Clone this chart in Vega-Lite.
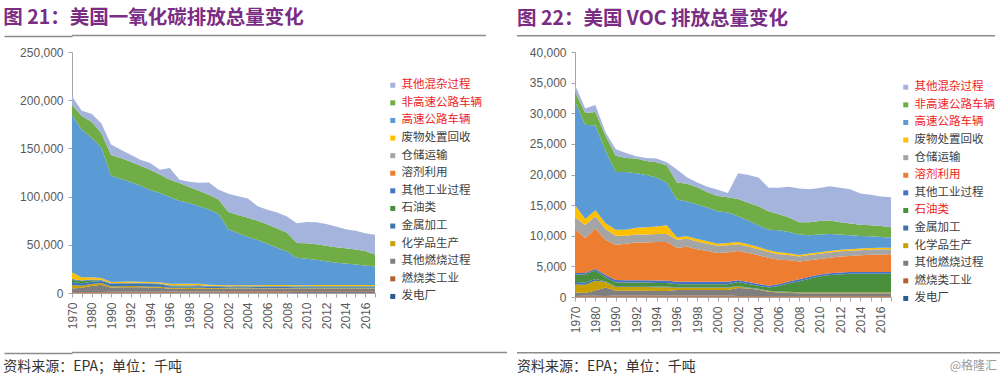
{
  "$schema": "https://vega.github.io/schema/vega-lite/v6.json",
  "padding": {"left": 3, "top": 8, "right": 0, "bottom": 0},
  "background": "white",
  "config": {
    "view": {"stroke": null},
    "font": "Noto Sans CJK SC",
    "title": {"font": "Noto Sans CJK SC"},
    "axis": {"labelFont": "Liberation Sans", "labelFontSize": 12, "labelColor": "#595959", "domainColor": "#A6A6A6", "tickColor": "#A6A6A6", "grid": false, "tickSize": 4},
    "legend": {"padding": 0}
  },
  "datasets": {
    "co": [
      {"year":1970,"发电厂":240,"燃烧类工业":770,"其他燃烧过程":3600,"化学品生产":3400,"金属加工":3600,"石油类":2200,"其他工业过程":620,"溶剂利用":0,"仓储运输":0,"废物处置回收":7100,"高速公路车辆":163500,"非高速公路车辆":10000,"其他混杂过程":9000},
      {"year":1975,"发电厂":280,"燃烧类工业":760,"其他燃烧过程":4300,"化学品生产":2200,"金属加工":2500,"石油类":2200,"其他工业过程":630,"溶剂利用":0,"仓储运输":0,"废物处置回收":3200,"高速公路车辆":153400,"非高速公路车辆":14200,"其他混杂过程":5300},
      {"year":1980,"发电厂":320,"燃烧类工业":750,"其他燃烧过程":6100,"化学品生产":2200,"金属加工":2200,"石油类":1700,"其他工业过程":800,"溶剂利用":0,"仓储运输":0,"废物处置回收":2300,"高速公路车辆":144600,"非高速公路车辆":16700,"其他混杂过程":8300},
      {"year":1985,"发电厂":290,"燃烧类工业":670,"其他燃烧过程":7500,"化学品生产":1800,"金属加工":2200,"石油类":460,"其他工业过程":690,"溶剂利用":2,"仓储运输":50,"废物处置回收":1900,"高速公路车辆":135400,"非高速公路车辆":15000,"其他混杂过程":10000},
      {"year":1990,"发电厂":360,"燃烧类工业":880,"其他燃烧过程":4300,"化学品生产":1200,"金属加工":2600,"石油类":330,"其他工业过程":540,"溶剂利用":5,"仓储运输":80,"废物处置回收":1100,"高速公路车辆":110300,"非高速公路车辆":21500,"其他混杂过程":10800},
      {"year":1991,"发电厂":350,"燃烧类工业":900,"其他燃烧过程":4600,"化学品生产":1100,"金属加工":2600,"石油类":340,"其他工业过程":520,"溶剂利用":5,"仓储运输":80,"废物处置回收":1100,"高速公路车辆":107000,"非高速公路车辆":21400,"其他混杂过程":8600},
      {"year":1992,"发电厂":360,"燃烧类工业":900,"其他燃烧过程":4800,"化学品生产":1100,"金属加工":2600,"石油类":350,"其他工业过程":520,"溶剂利用":5,"仓储运输":100,"废物处置回收":1100,"高速公路车辆":103200,"非高速公路车辆":21000,"其他混杂过程":7400},
      {"year":1993,"发电厂":370,"燃烧类工业":920,"其他燃烧过程":4600,"化学品生产":1100,"金属加工":2600,"石油类":350,"其他工业过程":530,"溶剂利用":5,"仓储运输":100,"废物处置回收":1100,"高速公路车辆":99600,"非高速公路车辆":20700,"其他混杂过程":6300},
      {"year":1994,"发电厂":370,"燃烧类工业":920,"其他燃烧过程":4200,"化学品生产":1100,"金属加工":2700,"石油类":350,"其他工业过程":530,"溶剂利用":5,"仓储运输":100,"废物处置回收":1100,"高速公路车辆":95600,"非高速公路车辆":21000,"其他混杂过程":6800},
      {"year":1995,"发电厂":370,"燃烧类工业":940,"其他燃烧过程":4100,"化学品生产":1100,"金属加工":2600,"石油类":340,"其他工业过程":520,"溶剂利用":5,"仓储运输":100,"废物处置回收":1200,"高速公路车辆":92400,"非高速公路车辆":19300,"其他混杂过程":5000},
      {"year":1996,"发电厂":380,"燃烧类工业":1040,"其他燃烧过程":3000,"化学品生产":1100,"金属加工":1400,"石油类":350,"其他工业过程":600,"溶剂利用":2,"仓储运输":100,"废物处置回收":1700,"高速公路车辆":89800,"非高速公路车辆":18000,"其他混杂过程":12100},
      {"year":1997,"发电厂":390,"燃烧类工业":1050,"其他燃烧过程":2900,"化学品生产":1100,"金属加工":1400,"石油类":360,"其他工业过程":620,"溶剂利用":2,"仓储运输":100,"废物处置回收":1700,"高速公路车辆":86100,"非高速公路车辆":18300,"其他混杂过程":3500},
      {"year":1998,"发电厂":400,"燃烧类工业":1050,"其他燃烧过程":2800,"化学品生产":1100,"金属加工":1500,"石油类":360,"其他工业过程":620,"溶剂利用":2,"仓储运输":100,"废物处置回收":1700,"高速公路车辆":83700,"非高速公路车辆":16700,"其他混杂过程":5500},
      {"year":1999,"发电厂":410,"燃烧类工业":1060,"其他燃烧过程":2900,"化学品生产":1100,"金属加工":1500,"石油类":370,"其他工业过程":630,"溶剂利用":2,"仓储运输":100,"废物处置回收":1600,"高速公路车辆":80200,"非高速公路车辆":16100,"其他混杂过程":8500},
      {"year":2000,"发电厂":480,"燃烧类工业":1100,"其他燃烧过程":2800,"化学品生产":800,"金属加工":1200,"石油类":360,"其他工业过程":550,"溶剂利用":3,"仓储运输":150,"废物处置回收":1000,"高速公路车辆":78100,"非高速公路车辆":15500,"其他混杂过程":12500},
      {"year":2001,"发电厂":500,"燃烧类工业":1100,"其他燃烧过程":2800,"化学品生产":700,"金属加工":1200,"石油类":400,"其他工业过程":550,"溶剂利用":3,"仓储运输":150,"废物处置回收":1000,"高速公路车辆":73600,"非高速公路车辆":15000,"其他混杂过程":10000},
      {"year":2002,"发电厂":520,"燃烧类工业":1200,"其他燃烧过程":2600,"化学品生产":600,"金属加工":1100,"石油类":300,"其他工业过程":550,"溶剂利用":3,"仓储运输":150,"废物处置回收":1000,"高速公路车辆":58000,"非高速公路车辆":18000,"其他混杂过程":19000},
      {"year":2003,"发电厂":550,"燃烧类工业":1200,"其他燃烧过程":2600,"化学品生产":600,"金属加工":1100,"石油类":300,"其他工业过程":550,"溶剂利用":3,"仓储运输":150,"废物处置回收":1000,"高速公路车辆":53900,"非高速公路车辆":19000,"其他混杂过程":19500},
      {"year":2004,"发电厂":580,"燃烧类工业":1200,"其他燃烧过程":2600,"化学品生产":600,"金属加工":1100,"石油类":300,"其他工业过程":550,"溶剂利用":3,"仓储运输":150,"废物处置回收":1000,"高速公路车辆":49900,"非高速公路车辆":20000,"其他混杂过程":20000},
      {"year":2005,"发电厂":600,"燃烧类工业":1200,"其他燃烧过程":2600,"化学品生产":600,"金属加工":1100,"石油类":300,"其他工业过程":550,"溶剂利用":3,"仓储运输":150,"废物处置回收":1000,"高速公路车辆":46900,"非高速公路车辆":20000,"其他混杂过程":15000},
      {"year":2006,"发电厂":620,"燃烧类工业":1200,"其他燃烧过程":2600,"化学品生产":600,"金属加工":1100,"石油类":350,"其他工业过程":550,"溶剂利用":3,"仓储运输":150,"废物处置回收":1000,"高速公路车辆":42800,"非高速公路车辆":20000,"其他混杂过程":15500},
      {"year":2007,"发电厂":620,"燃烧类工业":1200,"其他燃烧过程":2600,"化学品生产":600,"金属加工":1100,"石油类":400,"其他工业过程":550,"溶剂利用":3,"仓储运输":150,"废物处置回收":1000,"高速公路车辆":38800,"非高速公路车辆":20000,"其他混杂过程":16500},
      {"year":2008,"发电厂":620,"燃烧类工业":1200,"其他燃烧过程":2600,"化学品生产":600,"金属加工":1100,"石油类":450,"其他工业过程":550,"溶剂利用":3,"仓储运输":150,"废物处置回收":1000,"高速公路车辆":34700,"非高速公路车辆":19500,"其他混杂过程":17000},
      {"year":2009,"发电厂":650,"燃烧类工业":1100,"其他燃烧过程":2600,"化学品生产":500,"金属加工":1000,"石油类":550,"其他工业过程":500,"溶剂利用":3,"仓储运输":150,"废物处置回收":1000,"高速公路车辆":28400,"非高速公路车辆":15500,"其他混杂过程":20500},
      {"year":2010,"发电厂":680,"燃烧类工业":1100,"其他燃烧过程":2600,"化学品生产":500,"金属加工":1000,"石油类":600,"其他工业过程":500,"溶剂利用":3,"仓储运输":150,"废物处置回收":1000,"高速公路车辆":27400,"非高速公路车辆":16000,"其他混杂过程":22000},
      {"year":2011,"发电厂":700,"燃烧类工业":1100,"其他燃烧过程":2600,"化学品生产":500,"金属加工":1000,"石油类":650,"其他工业过程":500,"溶剂利用":3,"仓储运输":150,"废物处置回收":1000,"高速公路车辆":26300,"非高速公路车辆":16000,"其他混杂过程":23000},
      {"year":2012,"发电厂":700,"燃烧类工业":1100,"其他燃烧过程":2600,"化学品生产":500,"金属加工":1000,"石油类":650,"其他工业过程":500,"溶剂利用":3,"仓储运输":150,"废物处置回收":1000,"高速公路车辆":24800,"非高速公路车辆":16000,"其他混杂过程":22500},
      {"year":2013,"发电厂":700,"燃烧类工业":1100,"其他燃烧过程":2600,"化学品生产":500,"金属加工":1000,"石油类":650,"其他工业过程":500,"溶剂利用":3,"仓储运输":150,"废物处置回收":1000,"高速公路车辆":23300,"非高速公路车辆":16000,"其他混杂过程":21500},
      {"year":2014,"发电厂":700,"燃烧类工业":1100,"其他燃烧过程":2600,"化学品生产":500,"金属加工":1000,"石油类":650,"其他工业过程":500,"溶剂利用":3,"仓储运输":150,"废物处置回收":1000,"高速公路车辆":22300,"非高速公路车辆":16000,"其他混杂过程":19500},
      {"year":2015,"发电厂":700,"燃烧类工业":1100,"其他燃烧过程":2600,"化学品生产":500,"金属加工":1000,"石油类":650,"其他工业过程":500,"溶剂利用":3,"仓储运输":150,"废物处置回收":1000,"高速公路车辆":21300,"非高速公路车辆":15500,"其他混杂过程":19500},
      {"year":2016,"发电厂":700,"燃烧类工业":1100,"其他燃烧过程":2600,"化学品生产":500,"金属加工":1000,"石油类":650,"其他工业过程":500,"溶剂利用":3,"仓储运输":150,"废物处置回收":1000,"高速公路车辆":20300,"非高速公路车辆":15000,"其他混杂过程":18500},
      {"year":2017,"发电厂":700,"燃烧类工业":1100,"其他燃烧过程":2600,"化学品生产":500,"金属加工":1000,"石油类":650,"其他工业过程":500,"溶剂利用":3,"仓储运输":150,"废物处置回收":1000,"高速公路车辆":19300,"非高速公路车辆":12500,"其他混杂过程":20500}
    ],
    "voc": [
      {"year":1970,"发电厂":30,"燃烧类工业":150,"其他燃烧过程":540,"化学品生产":1340,"金属加工":390,"石油类":1190,"其他工业过程":270,"溶剂利用":7170,"仓储运输":1950,"废物处置回收":1980,"高速公路车辆":16910,"非高速公路车辆":1620,"其他混杂过程":1100},
      {"year":1975,"发电厂":40,"燃烧类工业":150,"其他燃烧过程":470,"化学品生产":1350,"金属加工":340,"石油类":1340,"其他工业过程":240,"溶剂利用":5650,"仓储运输":2180,"废物处置回收":980,"高速公路车辆":15390,"非高速公路车辆":1920,"其他混杂过程":720},
      {"year":1980,"发电厂":50,"燃烧类工业":160,"其他燃烧过程":850,"化学品生产":1600,"金属加工":270,"石油类":1440,"其他工业过程":240,"溶剂利用":6580,"仓储运输":1980,"废物处置回收":980,"高速公路车辆":13870,"非高速公路车辆":2190,"其他混杂过程":1130},
      {"year":1985,"发电厂":30,"燃烧类工业":130,"其他燃烧过程":1400,"化学品生产":880,"金属加工":80,"石油类":700,"其他工业过程":390,"溶剂利用":5700,"仓储运输":1750,"废物处置回收":980,"高速公路车辆":11800,"非高速公路车辆":2440,"其他混杂过程":560},
      {"year":1990,"发电厂":50,"燃烧类工业":180,"其他燃烧过程":780,"化学品生产":630,"金属加工":120,"石油类":610,"其他工业过程":400,"溶剂利用":5750,"仓储运输":1490,"废物处置回收":990,"高速公路车辆":9390,"非高速公路车辆":2660,"其他混杂过程":1060},
      {"year":1991,"发电厂":50,"燃烧类工业":180,"其他燃烧过程":800,"化学品生产":600,"金属加工":120,"石油类":600,"其他工业过程":400,"溶剂利用":5950,"仓储运输":1300,"废物处置回收":1000,"高速公路车辆":9400,"非高速公路车辆":2300,"其他混杂过程":800},
      {"year":1992,"发电厂":50,"燃烧类工业":180,"其他燃烧过程":800,"化学品生产":600,"金属加工":120,"石油类":600,"其他工业过程":400,"溶剂利用":6150,"仓储运输":1300,"废物处置回收":1100,"高速公路车辆":8900,"非高速公路车辆":2400,"其他混杂过程":400},
      {"year":1993,"发电厂":50,"燃烧类工业":180,"其他燃烧过程":800,"化学品生产":600,"金属加工":120,"石油类":600,"其他工业过程":400,"溶剂利用":6150,"仓储运输":1300,"废物处置回收":1200,"高速公路车辆":8500,"非高速公路车辆":2300,"其他混杂过程":500},
      {"year":1994,"发电厂":50,"燃烧类工业":180,"其他燃烧过程":750,"化学品生产":600,"金属加工":120,"石油类":600,"其他工业过程":400,"溶剂利用":6300,"仓储运输":1300,"废物处置回收":1200,"高速公路车辆":8000,"非高速公路车辆":2500,"其他混杂过程":600},
      {"year":1995,"发电厂":50,"燃烧类工业":180,"其他燃烧过程":750,"化学品生产":600,"金属加工":120,"石油类":600,"其他工业过程":400,"溶剂利用":6300,"仓储运输":1300,"废物处置回收":1400,"高速公路车辆":7000,"非高速公路车辆":2800,"其他混杂过程":500},
      {"year":1996,"发电厂":50,"燃烧类工业":180,"其他燃烧过程":900,"化学品生产":400,"金属加工":70,"石油类":500,"其他工业过程":400,"溶剂利用":5550,"仓储运输":1300,"废物处置回收":400,"高速公路车辆":6150,"非高速公路车辆":2800,"其他混杂过程":2100},
      {"year":1997,"发电厂":50,"燃烧类工业":180,"其他燃烧过程":900,"化学品生产":400,"金属加工":70,"石油类":500,"其他工业过程":400,"溶剂利用":5700,"仓储运输":1300,"废物处置回收":400,"高速公路车辆":5700,"非高速公路车辆":2900,"其他混杂过程":1000},
      {"year":1998,"发电厂":50,"燃烧类工业":180,"其他燃烧过程":900,"化学品生产":400,"金属加工":70,"石油类":500,"其他工业过程":400,"溶剂利用":5300,"仓储运输":1250,"废物处置回收":400,"高速公路车辆":5650,"非高速公路车辆":2800,"其他混杂过程":800},
      {"year":1999,"发电厂":50,"燃烧类工业":180,"其他燃烧过程":900,"化学品生产":400,"金属加工":70,"石油类":500,"其他工业过程":400,"溶剂利用":5000,"仓储运输":1200,"废物处置回收":400,"高速公路车辆":5500,"非高速公路车辆":2500,"其他混杂过程":900},
      {"year":2000,"发电厂":50,"燃烧类工业":180,"其他燃烧过程":900,"化学品生产":400,"金属加工":70,"石油类":500,"其他工业过程":400,"溶剂利用":4700,"仓储运输":1150,"废物处置回收":350,"高速公路车辆":5300,"非高速公路车辆":2500,"其他混杂过程":1000},
      {"year":2001,"发电厂":50,"燃烧类工业":180,"其他燃烧过程":900,"化学品生产":400,"金属加工":70,"石油类":500,"其他工业过程":400,"溶剂利用":4800,"仓储运输":1150,"废物处置回收":350,"高速公路车辆":5000,"非高速公路车辆":2500,"其他混杂过程":700},
      {"year":2002,"发电厂":50,"燃烧类工业":120,"其他燃烧过程":1300,"化学品生产":250,"金属加工":70,"石油类":650,"其他工业过程":300,"溶剂利用":4760,"仓储运输":1100,"废物处置回收":400,"高速公路车辆":4200,"非高速公路车辆":2800,"其他混杂过程":4200},
      {"year":2003,"发电厂":50,"燃烧类工业":120,"其他燃烧过程":1200,"化学品生产":100,"金属加工":70,"石油类":600,"其他工业过程":300,"溶剂利用":4760,"仓储运输":1050,"废物处置回收":350,"高速公路车辆":3900,"非高速公路车辆":2900,"其他混杂过程":4500},
      {"year":2004,"发电厂":50,"燃烧类工业":120,"其他燃烧过程":1000,"化学品生产":100,"金属加工":70,"石油类":500,"其他工业过程":300,"溶剂利用":4660,"仓储运输":1000,"废物处置回收":350,"高速公路车辆":3550,"非高速公路车辆":3100,"其他混杂过程":4700},
      {"year":2005,"发电厂":50,"燃烧类工业":120,"其他燃烧过程":700,"化学品生产":100,"金属加工":70,"石油类":500,"其他工业过程":300,"溶剂利用":4560,"仓储运输":950,"废物处置回收":300,"高速公路车辆":3350,"非高速公路车辆":3000,"其他混杂过程":3850},
      {"year":2006,"发电厂":50,"燃烧类工业":120,"其他燃烧过程":550,"化学品生产":100,"金属加工":70,"石油类":900,"其他工业过程":300,"溶剂利用":4010,"仓储运输":900,"废物处置回收":300,"高速公路车辆":3600,"非高速公路车辆":2600,"其他混杂过程":4350},
      {"year":2007,"发电厂":50,"燃烧类工业":120,"其他燃烧过程":500,"化学品生产":100,"金属加工":70,"石油类":1400,"其他工业过程":300,"溶剂利用":3460,"仓储运输":850,"废物处置回收":300,"高速公路车辆":3450,"非高速公路车辆":2400,"其他混杂过程":5000},
      {"year":2008,"发电厂":50,"燃烧类工业":120,"其他燃烧过程":450,"化学品生产":100,"金属加工":70,"石油类":1800,"其他工业过程":300,"溶剂利用":2910,"仓储运输":800,"废物处置回收":250,"高速公路车辆":3350,"非高速公路车辆":2000,"其他混杂过程":5500},
      {"year":2009,"发电厂":50,"燃烧类工业":120,"其他燃烧过程":450,"化学品生产":100,"金属加工":70,"石油类":2200,"其他工业过程":300,"溶剂利用":2710,"仓储运输":850,"废物处置回收":250,"高速公路车辆":3000,"非高速公路车辆":2100,"其他混杂过程":5400},
      {"year":2010,"发电厂":50,"燃烧类工业":120,"其他燃烧过程":450,"化学品生产":100,"金属加工":70,"石油类":2600,"其他工业过程":300,"溶剂利用":2510,"仓储运输":850,"废物处置回收":250,"高速公路车辆":2900,"非高速公路车辆":2200,"其他混杂过程":5400},
      {"year":2011,"发电厂":50,"燃烧类工业":120,"其他燃烧过程":450,"化学品生产":100,"金属加工":70,"石油类":2800,"其他工业过程":300,"溶剂利用":2510,"仓储运输":850,"废物处置回收":250,"高速公路车辆":2800,"非高速公路车辆":2200,"其他混杂过程":5600},
      {"year":2012,"发电厂":50,"燃烧类工业":120,"其他燃烧过程":450,"化学品生产":100,"金属加工":70,"石油类":2900,"其他工业过程":300,"溶剂利用":2610,"仓储运输":850,"废物处置回收":250,"高速公路车辆":2500,"非高速公路车辆":2000,"其他混杂过程":5650},
      {"year":2013,"发电厂":50,"燃烧类工业":120,"其他燃烧过程":450,"化学品生产":100,"金属加工":70,"石油类":3000,"其他工业过程":300,"溶剂利用":2610,"仓储运输":850,"废物处置回收":250,"高速公路车辆":2300,"非高速公路车辆":1900,"其他混杂过程":5600},
      {"year":2014,"发电厂":50,"燃烧类工业":120,"其他燃烧过程":450,"化学品生产":100,"金属加工":70,"石油类":3000,"其他工业过程":300,"溶剂利用":2710,"仓储运输":850,"废物处置回收":250,"高速公路车辆":2060,"非高速公路车辆":1840,"其他混杂过程":5100},
      {"year":2015,"发电厂":50,"燃烧类工业":120,"其他燃烧过程":450,"化学品生产":100,"金属加工":70,"石油类":3000,"其他工业过程":300,"溶剂利用":2810,"仓储运输":850,"废物处置回收":250,"高速公路车辆":1900,"非高速公路车辆":1800,"其他混杂过程":5000},
      {"year":2016,"发电厂":50,"燃烧类工业":120,"其他燃烧过程":450,"化学品生产":100,"金属加工":70,"石油类":3000,"其他工业过程":300,"溶剂利用":2860,"仓储运输":850,"废物处置回收":250,"高速公路车辆":1750,"非高速公路车辆":1800,"其他混杂过程":4800},
      {"year":2017,"发电厂":50,"燃烧类工业":120,"其他燃烧过程":450,"化学品生产":100,"金属加工":70,"石油类":3000,"其他工业过程":300,"溶剂利用":2870,"仓储运输":850,"废物处置回收":250,"高速公路车辆":1640,"非高速公路车辆":1700,"其他混杂过程":4900}
    ]
  },
  "spacing": 9,
  "columns": 1,
  "align": "none",
  "concat": [
    {
      "spacing": 30,
      "hconcat": [
        {
          "title": {"text": "图 21：美国一氧化碳排放总量变化", "anchor": "start", "frame": "bounds", "orient": "top", "offset": 6, "fontSize": 19.5, "fontWeight": "bold", "color": "#7B2C84"},
          "width": 414, "height": 1,
          "data": {"values": [{"v": 0.5}]},
          "mark": {"type": "rule", "color": "#8C8C8C", "strokeWidth": 1.5},
          "encoding": {"y": {"field": "v", "type": "quantitative", "scale": {"domain": [0, 1]},
            "axis": {"title": null, "values": [0.5], "labels": false, "domain": false, "ticks": true, "tickSize": 68, "tickColor": "#8C8C8C", "tickWidth": 1.5, "grid": false, "minExtent": 68, "maxExtent": 68}}}
        },
        {
          "title": {"text": "图 22：美国 VOC 排放总量变化", "anchor": "start", "orient": "top", "offset": 6, "fontSize": 19.5, "fontWeight": "bold", "color": "#7B2C84"},
          "width": 478, "height": 1.5,
          "data": {"values": []},
          "mark": "rule", "encoding": {},
          "view": {"fill": "#8C8C8C", "stroke": null}
        }
      ]
    },
    {
      "spacing": 31,
      "resolve": {"scale": {"color": "independent"}, "legend": {"color": "independent"}},
      "hconcat": [
        {
          "data": {"name": "co"},
          "width": 303, "height": 241,
          "transform": [
            {"fold": ["发电厂","燃烧类工业","其他燃烧过程","化学品生产","金属加工","石油类","其他工业过程","溶剂利用","仓储运输","废物处置回收","高速公路车辆","非高速公路车辆","其他混杂过程"], "as": ["cat", "v"]},
            {"calculate": "12 - indexof(['其他混杂过程','非高速公路车辆','高速公路车辆','废物处置回收','仓储运输','溶剂利用','其他工业过程','石油类','金属加工','化学品生产','其他燃烧过程','燃烧类工业','发电厂'], datum.cat)", "as": "o"}
          ],
          "mark": {"type": "area"},
          "encoding": {
            "x": {"field": "year", "type": "ordinal", "scale": {"type": "point", "padding": 0},
                  "axis": {"title": null, "labelAngle": -90, "labelExpr": "datum.value % 2 == 0 ? datum.label : ''", "labelOverlap": false, "labelPadding": 5, "minExtent": 49, "maxExtent": 49}},
            "y": {"field": "v", "type": "quantitative", "stack": "zero", "scale": {"domain": [0, 250000], "nice": false},
                  "axis": {"title": null, "values": [0, 50000, 100000, 150000, 200000, 250000], "format": ",d", "labelPadding": 5, "minExtent": 68, "maxExtent": 68}},
            "color": {"field": "cat", "type": "nominal",
              "scale": {"domain": ["其他混杂过程","非高速公路车辆","高速公路车辆","废物处置回收","仓储运输","溶剂利用","其他工业过程","石油类","金属加工","化学品生产","其他燃烧过程","燃烧类工业","发电厂"],
                        "range": ["#A5B4DD","#70AD47","#5B9BD5","#FFC000","#A5A5A5","#ED7D31","#4472C4","#4A8F3C","#3E75B0","#C9A100","#7F7F7F","#B5602F","#2B5A8C"]},
              "legend": {"title": null, "orient": "none", "direction": "vertical", "legendX": 315, "legendY": 27.5, "symbolType": "square", "symbolSize": 25, "symbolStrokeWidth": 0, "labelFont": "Noto Sans CJK SC", "labelFontSize": 11.5, "labelOffset": 3, "rowPadding": 4.6, "labelLimit": 200,
                "labelColor": {"expr": "indexof(['其他混杂过程','非高速公路车辆','高速公路车辆'], datum.label) >= 0 ? '#EE1C25' : '#404040'"}}},
            "order": {"field": "o", "type": "quantitative"}
          }
        },
        {
          "data": {"name": "voc"},
          "width": 316, "height": 245,
          "transform": [
            {"fold": ["发电厂","燃烧类工业","其他燃烧过程","化学品生产","金属加工","石油类","其他工业过程","溶剂利用","仓储运输","废物处置回收","高速公路车辆","非高速公路车辆","其他混杂过程"], "as": ["cat", "v"]},
            {"calculate": "12 - indexof(['其他混杂过程','非高速公路车辆','高速公路车辆','废物处置回收','仓储运输','溶剂利用','其他工业过程','石油类','金属加工','化学品生产','其他燃烧过程','燃烧类工业','发电厂'], datum.cat)", "as": "o"}
          ],
          "mark": {"type": "area"},
          "encoding": {
            "x": {"field": "year", "type": "ordinal", "scale": {"type": "point", "padding": 0},
                  "axis": {"title": null, "labelAngle": -90, "labelExpr": "datum.value % 2 == 0 ? datum.label : ''", "labelOverlap": false, "labelPadding": 5, "minExtent": 45, "maxExtent": 45}},
            "y": {"field": "v", "type": "quantitative", "stack": "zero", "scale": {"domain": [0, 40000], "nice": false},
                  "axis": {"title": null, "values": [0, 5000, 10000, 15000, 20000, 25000, 30000, 35000, 40000], "format": ",d", "labelPadding": 5, "minExtent": 62, "maxExtent": 62}},
            "color": {"field": "cat", "type": "nominal",
              "scale": {"domain": ["其他混杂过程","非高速公路车辆","高速公路车辆","废物处置回收","仓储运输","溶剂利用","其他工业过程","石油类","金属加工","化学品生产","其他燃烧过程","燃烧类工业","发电厂"],
                        "range": ["#A5B4DD","#70AD47","#5B9BD5","#FFC000","#A5A5A5","#ED7D31","#4472C4","#4A8F3C","#3E75B0","#C9A100","#7F7F7F","#B5602F","#2B5A8C"]},
              "legend": {"title": null, "orient": "none", "direction": "vertical", "legendX": 325, "legendY": 29.5, "symbolType": "square", "symbolSize": 25, "symbolStrokeWidth": 0, "labelFont": "Noto Sans CJK SC", "labelFontSize": 11.5, "labelOffset": 3, "rowPadding": 4.6, "labelLimit": 200,
                "labelColor": {"expr": "indexof(['其他混杂过程','非高速公路车辆','高速公路车辆','溶剂利用','石油类'], datum.label) >= 0 ? '#EE1C25' : '#404040'"}}},
            "order": {"field": "o", "type": "quantitative"}
          }
        }
      ]
    },
    {
      "spacing": 9,
      "hconcat": [
        {
          "title": {"text": "资料来源：EPA；单位：千吨", "anchor": "start", "frame": "bounds", "orient": "bottom", "offset": 6, "fontSize": 14, "fontWeight": "normal", "color": "#333333"},
          "width": 435, "height": 1,
          "data": {"values": [{"v": 0.5}]},
          "mark": {"type": "rule", "color": "#8C8C8C", "strokeWidth": 1.5},
          "encoding": {"y": {"field": "v", "type": "quantitative", "scale": {"domain": [0, 1]},
            "axis": {"title": null, "values": [0.5], "labels": false, "domain": false, "ticks": true, "tickSize": 68, "tickColor": "#8C8C8C", "tickWidth": 1.5, "grid": false, "minExtent": 68, "maxExtent": 68}}}
        },
        {
          "spacing": 0,
          "hconcat": [
            {
              "title": {"text": "资料来源：EPA；单位：千吨", "anchor": "start", "orient": "bottom", "offset": 6, "fontSize": 14, "fontWeight": "normal", "color": "#333333"},
              "width": 425, "height": 1.5,
              "data": {"values": []},
              "mark": "rule", "encoding": {},
              "view": {"fill": "#8C8C8C", "stroke": null}
            },
            {
              "title": {"text": "@格隆汇", "anchor": "end", "orient": "bottom", "offset": 7, "dx": -5, "fontSize": 12, "fontWeight": "normal", "color": "#9A9A9A"},
              "width": 60, "height": 1.5,
              "data": {"values": []},
              "mark": "rule", "encoding": {},
              "view": {"fill": "#8C8C8C", "stroke": null}
            }
          ]
        }
      ]
    }
  ]
}
